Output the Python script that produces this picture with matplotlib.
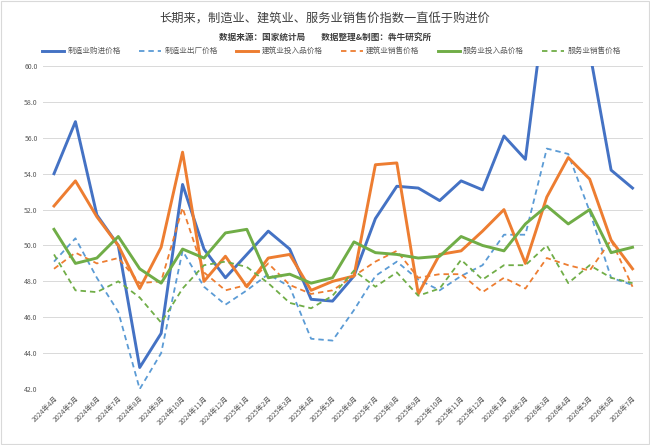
import matplotlib
matplotlib.use("Agg")
import matplotlib.pyplot as plt
from matplotlib.patches import Rectangle

plt.rcParams['font.family'] = ['Noto Sans CJK SC', 'DejaVu Sans']

# months 2024-4 .. 2026-7
months = ["2024年%d月" % m for m in range(4, 13)] + \
         ["2025年%d月" % m for m in range(1, 13)] + \
         ["2026年%d月" % m for m in range(1, 8)]

# 制造业
mfg_buy = [54.0, 56.9, 51.7, 50.0, 43.2, 45.1, 53.4, 49.8, 48.2, 49.5, 50.8, 49.8, 47.0, 46.9,
           48.3, 51.5, 53.3, 53.2, 52.5, 53.6, 53.1, 56.1, 54.8, 64.2, 63.0, 60.8, 54.2, 53.2]
mfg_out = [49.1, 50.4, 48.2, 46.3, 42.0, 44.0, 49.7, 47.7, 46.7, 47.5, 48.4, 47.7, 44.8, 44.7,
           46.4, 48.3, 49.1, 48.1, 47.5, 48.3, 48.9, 50.6, 50.6, 55.4, 55.1, 51.9, 48.2, 47.8]
# 建筑业
bld_in = [52.2, 53.6, 51.6, 50.0, 47.6, 49.9, 55.2, 48.0, 49.4, 47.7, 49.3, 49.5, 47.5, 48.0,
          48.3, 54.5, 54.6, 47.3, 49.5, 49.7, 50.8, 52.0, 49.0, 52.7, 54.9, 53.7, 50.3, 48.7]
bld_sale = [48.7, 49.6, 49.0, 49.3, 47.9, 48.0, 52.1, 48.5, 47.5, 47.8, 49.0, 47.8, 47.3, 47.5,
            48.3, 49.1, 49.7, 48.2, 48.4, 48.4, 47.4, 48.2, 47.6, 49.3, 48.9, 48.6, 50.3, 47.7]
# 服务业
svc_in = [50.9, 49.0, 49.3, 50.5, 48.7, 47.9, 49.8, 49.3, 50.7, 50.9, 48.2, 48.4, 47.9, 48.2,
          50.2, 49.6, 49.5, 49.3, 49.4, 50.5, 50.0, 49.7, 51.2, 52.2, 51.2, 52.0, 49.6, 49.9]
svc_sale = [49.5, 47.5, 47.4, 48.0, 47.1, 45.7, 47.6, 48.9, 49.1, 48.8, 47.9, 46.8, 46.5, 47.2,
            48.6, 47.7, 48.5, 47.2, 47.6, 49.2, 48.1, 48.9, 48.9, 50.0, 47.9, 48.9, 48.2, 47.9]

blue, lblue, orange, green = '#4472C4', '#5B9BD5', '#ED7D31', '#70AD47'
dash = (0, (3, 2.2))

fig = plt.figure(figsize=(6.5, 4.45), dpi=100)
ax = fig.add_axes([0.0666, 0.1258, 0.923, 0.7258])

x = range(len(months))
ax.plot(x, mfg_buy, color=blue, lw=2.1, label='制造业购进价格')
ax.plot(x, mfg_out, color=lblue, lw=1.3, ls=dash, label='制造业出厂价格')
ax.plot(x, bld_in, color=orange, lw=2.1, label='建筑业投入品价格')
ax.plot(x, bld_sale, color=orange, lw=1.3, ls=dash, label='建筑业销售价格')
ax.plot(x, svc_in, color=green, lw=2.1, label='服务业投入品价格')
ax.plot(x, svc_sale, color=green, lw=1.3, ls=dash, label='服务业销售价格')

ax.set_xlim(-0.5, len(months) - 0.5)
ax.set_ylim(42, 60)
ax.set_yticks(range(42, 61, 2))
ax.set_yticklabels(["%.1f" % v for v in range(42, 61, 2)], fontsize=5, color='#595959')
ax.set_xticks(list(x))
ax.set_xticklabels(months, rotation=45, ha='right', rotation_mode='anchor',
                   fontsize=5, color='#595959')
ax.tick_params(length=0, pad=4)
ax.grid(axis='y', color='#D9D9D9', lw=0.7)
ax.set_axisbelow(True)
for s in ax.spines.values():
    s.set_visible(False)

fig.text(0.5, 0.958, '长期来，制造业、建筑业、服务业销售价指数一直低于购进价',
         ha='center', va='center', fontsize=8.8, color='#404040')
fig.text(0.5, 0.915, '数据来源：国家统计局        数据整理&制图：犇牛研究所',
         ha='center', va='center', fontsize=6.2, color='#404040', fontweight='bold')
fig.legend(loc='center', bbox_to_anchor=(0.51, 0.885), ncol=6, frameon=False,
           fontsize=5.5, labelcolor='#595959', handlelength=2.9, handletextpad=0.4,
           columnspacing=2.4)

fig.patches.append(Rectangle((0.002, 0.002), 0.996, 0.996, transform=fig.transFigure,
                             fill=False, edgecolor='#D9D9D9', lw=0.8))

fig.savefig('out.png', dpi=100)
